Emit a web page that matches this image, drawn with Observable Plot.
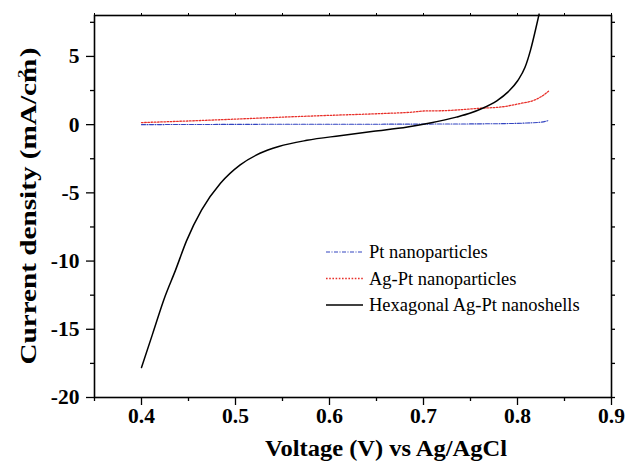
<!DOCTYPE html>
<html>
<head>
<meta charset="utf-8">
<script src="https://cdn.jsdelivr.net/npm/d3@7"></script>
<script src="https://cdn.jsdelivr.net/npm/@observablehq/plot@0.6"></script>
<style>
  html, body { margin: 0; padding: 0; background: white; }
  #chart { width: 625px; height: 463px; }
</style>
</head>
<body>
<div id="chart"></div>
<script>
// ---- Data ----
const seriesNames = ["Pt nanoparticles", "Ag-Pt nanoparticles", "Hexagonal Ag-Pt nanoshells"];

const ptVoltage = [0.400, 0.450, 0.500, 0.600, 0.700, 0.780, 0.810, 0.825, 0.833];
const ptCurrent = [0.00, 0.01, 0.02, 0.03, 0.04, 0.07, 0.12, 0.18, 0.30];

const agptVoltage = [0.400, 0.450, 0.505, 0.550, 0.600, 0.654, 0.690, 0.700, 0.720, 0.760, 0.783, 0.803, 0.818, 0.825, 0.833];
const agptCurrent = [0.15, 0.27, 0.42, 0.55, 0.68, 0.81, 0.93, 1.00, 1.02, 1.20, 1.30, 1.55, 1.80, 2.04, 2.45];

const hexVoltage = [0.400, 0.412, 0.425, 0.436, 0.448, 0.464, 0.484, 0.505, 0.526, 0.546, 0.576, 0.611, 0.647, 0.683, 0.707, 0.735, 0.750, 0.761, 0.778, 0.790, 0.800, 0.808, 0.814, 0.819, 0.823];
const hexCurrent = [-17.8, -15.3, -12.6, -10.7, -8.5, -6.25, -4.3, -2.95, -2.1, -1.6, -1.15, -0.81, -0.49, -0.17, 0.12, 0.55, 0.85, 1.15, 1.75, 2.4, 3.2, 4.2, 5.5, 6.9, 8.1];

const xTicks = [0.4, 0.5, 0.6, 0.7, 0.8, 0.9];
const xTickLabels = ["0.4", "0.5", "0.6", "0.7", "0.8", "0.9"];
const xMinorTicks = [0.35, 0.45, 0.55, 0.65, 0.75, 0.85];
const yTicks = [-20, -15, -10, -5, 0, 5];
const yTickLabels = ["-20", "-15", "-10", "-5", "0", "5"];
const yMinorTicks = [-17.5, -12.5, -7.5, -2.5, 2.5, 7.5];

const xTitle = "Voltage (V) vs Ag/AgCl";
const yTitleMain = "Current density (mA/cm";
const yTitleSup = "2";
const yTitleEnd = " )";

// ---- Build tables ----
const toRows = (vs, cs, name) => vs.map((v, i) => ({v, c: cs[i], name}));
const ptRows = toRows(ptVoltage, ptCurrent, seriesNames[0]);
const agptRows = toRows(agptVoltage, agptCurrent, seriesNames[1]);
const hexRows = toRows(hexVoltage, hexCurrent, seriesNames[2]);

const FONT = "'Liberation Serif', 'Times New Roman', serif";

const styles = [
  {stroke: "#3344c0", strokeWidth: 1.1, strokeDasharray: "4,1.5,1,1.5"},
  {stroke: "#e8302a", strokeWidth: 1.3, strokeDasharray: "1.6,1.6"},
  {stroke: "#000000", strokeWidth: 1.5, strokeDasharray: null}
];

const plot = Plot.plot({
  width: 625,
  height: 463,
  marginLeft: 94,
  marginRight: 14,
  marginTop: 15,
  marginBottom: 66,
  style: {fontFamily: FONT, background: "white", overflow: "visible"},
  x: {domain: [0.35, 0.9]},
  y: {domain: [-20, 8]},
  marks: [
    Plot.line(ptRows, {x: "v", y: "c", curve: "monotone-x", ...styles[0]}),
    Plot.line(agptRows, {x: "v", y: "c", curve: "monotone-x", ...styles[1]}),
    Plot.line(hexRows, {x: "v", y: "c", curve: "monotone-x", ...styles[2]}),
    // bottom axis
    Plot.axisX({ticks: xTicks, tickFormat: (d, i) => xTickLabels[i], tickSize: 8, tickPadding: 2,
      label: null, strokeWidth: 1.3}),
    Plot.axisX({ticks: xMinorTicks, tickSize: 4, text: null, label: null, strokeWidth: 1.3}),
    // top axis ticks
    Plot.axisX({anchor: "top", ticks: xTicks.concat(xMinorTicks), tickSize: 3, text: null, label: null, strokeWidth: 1}),
    // left axis
    Plot.axisY({ticks: yTicks, tickFormat: (d, i) => yTickLabels[i], tickSize: 8, tickPadding: 7,
      label: null, strokeWidth: 1.3}),
    Plot.axisY({ticks: yMinorTicks, tickSize: 4, text: null, label: null, strokeWidth: 1.3}),
    // right axis ticks
    Plot.axisY({anchor: "right", ticks: yTicks.concat(yMinorTicks), tickSize: 3, text: null, label: null, strokeWidth: 1.3}),
    Plot.frame({stroke: "black", strokeWidth: 1.6})
  ]
});

document.getElementById("chart").appendChild(plot);

const svg = d3.select(plot);

// tick label font: bold serif, larger (only tick labels exist as text at this point)
svg.selectAll("text")
  .style("font-size", "21.5px").style("font-weight", "bold").style("fill", "black")
  .style("font-family", FONT);

// ---- Titles and legend ----
svg.append("text")
  .attr("transform", "translate(386,456) scale(1.065,1)")
  .attr("text-anchor", "middle")
  .attr("font-family", FONT).attr("font-weight", "bold").attr("font-size", 23)
  .attr("fill", "black")
  .text(xTitle);

const yt = svg.append("text")
  .attr("transform", "translate(36,206) rotate(-90) scale(1.27,1)")
  .attr("text-anchor", "middle")
  .attr("font-family", FONT).attr("font-weight", "bold").attr("font-size", 23)
  .attr("fill", "black");
yt.append("tspan").text(yTitleMain);
yt.append("tspan").attr("dy", -10).attr("dx", -15).attr("font-size", 13).text(yTitleSup);
yt.append("tspan").attr("dy", 10).attr("dx", 4).text(yTitleEnd);

const legendX = 326, legendY0 = 252, legendDy = 26.5;
seriesNames.forEach((name, i) => {
  const g = svg.append("g").attr("transform", `translate(${legendX},${legendY0 + i * legendDy})`);
  g.append("line").attr("x1", 0).attr("x2", 37).attr("y1", 0).attr("y2", 0)
    .attr("stroke", styles[i].stroke).attr("stroke-width", styles[i].strokeWidth)
    .attr("stroke-dasharray", styles[i].strokeDasharray);
  g.append("text").attr("x", 43).attr("y", 0).attr("dy", "0.33em")
    .attr("text-anchor", "start")
    .attr("font-family", FONT).attr("font-size", 18.5).attr("fill", "black")
    .text(name);
});
</script>
</body>
</html>
